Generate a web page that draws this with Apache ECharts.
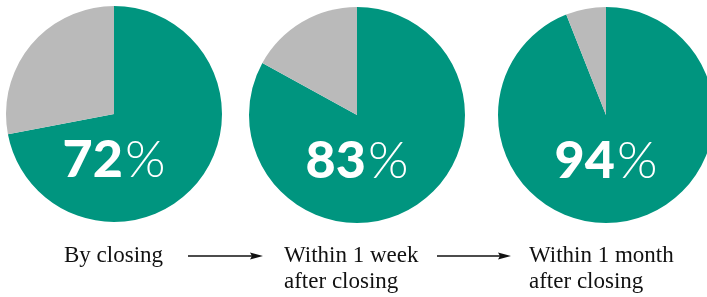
<!DOCTYPE html>
<html>
<head>
<meta charset="utf-8">
<script src="https://cdn.jsdelivr.net/npm/echarts@6/dist/echarts.min.js"></script>
<style>
  html, body { margin: 0; padding: 0; background: #fff; }
  #chart { width: 707px; height: 297px; }
</style>
</head>
<body>
<div id="chart"></div>
<script>
  // share of loans done at each point in time
  var stages = ['By closing', 'Within 1 week\nafter closing', 'Within 1 month\nafter closing'];
  var shares = [72, 83, 94];

  var centers = [[114, 114], [357, 115], [606, 115]];
  var captionX = [64, 284, 529];
  var teal = '#00957f';
  var grey = '#bababa';

  var myChart = echarts.init(document.getElementById('chart'));

  var series = shares.map(function (v, i) {
    return {
      type: 'pie',
      center: centers[i],
      radius: 108,
      startAngle: 90,
      clockwise: true,
      silent: true,
      labelLine: { show: false },
      data: [
        {
          value: v,
          itemStyle: { color: teal },
          label: {
            show: true,
            position: 'center',
            offset: [0, 46],
            formatter: '{n|' + v + '}{p|%}',
            rich: {
              n: { fontFamily: 'Lato', fontWeight: 900, fontSize: 52, color: '#fff', padding: [0, 2, 0, 0] },
              p: { fontFamily: 'Lato', fontWeight: 300, fontSize: 52, color: '#fff' }
            }
          }
        },
        { value: 100 - v, itemStyle: { color: grey }, label: { show: false } }
      ]
    };
  });

  var graphic = [];
  stages.forEach(function (s, i) {
    graphic.push({
      type: 'text',
      left: captionX[i],
      top: 243,
      style: {
        text: s,
        fill: '#111',
        font: '23px "Liberation Serif"',
        lineHeight: 26
      }
    });
  });
  // arrows between captions
  [[188, 263], [437, 511]].forEach(function (a) {
    graphic.push({
      type: 'line',
      shape: { x1: a[0], y1: 256, x2: a[1] - 8, y2: 256 },
      style: { stroke: '#111', lineWidth: 1.3 }
    });
    graphic.push({
      type: 'polygon',
      shape: { points: [[a[1], 256], [a[1] - 13, 252.5], [a[1] - 11, 256], [a[1] - 13, 259.5]] },
      style: { fill: '#111' }
    });
  });

  var option = {
    animation: false,
    series: series,
    graphic: graphic
  };

  myChart.setOption(option);
</script>
</body>
</html>
